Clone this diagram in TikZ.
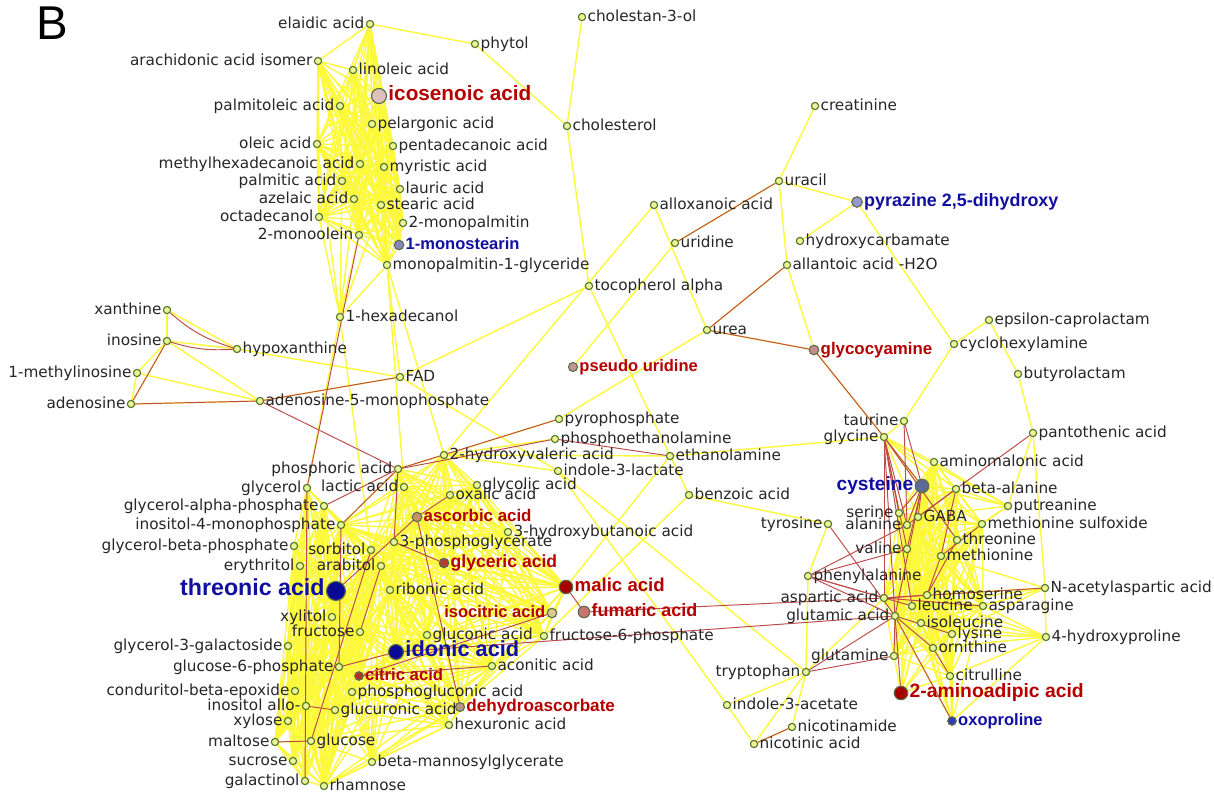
\documentclass[tikz,border=0pt]{standalone}
\usepackage{fontspec}
\newfontfamily\labfont{DejaVu Sans}
\newfontfamily\hifont{Liberation Sans}

\definecolor{edgeyellow}{RGB}{252,248,60}
\definecolor{edgered}{RGB}{190,75,75}
\definecolor{dotfill}{RGB}{236,245,150}
\definecolor{dotdraw}{RGB}{85,120,40}
\definecolor{hitdraw}{RGB}{90,110,70}
\definecolor{hired}{RGB}{180,0,0}
\definecolor{hiblue}{RGB}{15,15,160}
\definecolor{icosfill}{RGB}{222,192,192}
\definecolor{stearfill}{RGB}{135,135,200}
\definecolor{pyrafill}{RGB}{150,150,210}
\definecolor{pseudofill}{RGB}{195,150,150}
\definecolor{glycofill}{RGB}{200,140,140}
\definecolor{cysfill}{RGB}{95,105,150}
\definecolor{ascfill}{RGB}{200,145,100}
\definecolor{glycerfill}{RGB}{180,60,50}
\definecolor{navyfill}{RGB}{10,10,150}
\definecolor{malicfill}{RGB}{165,0,0}
\definecolor{fumfill}{RGB}{200,115,110}
\definecolor{isofill}{RGB}{220,200,150}
\definecolor{citfill}{RGB}{175,50,40}
\definecolor{dehydfill}{RGB}{180,150,130}
\definecolor{oxofill}{RGB}{50,60,175}

\pgfdeclarelayer{edges}
\pgfsetlayers{edges,main}

\tikzstyle{met}=[circle,
                 draw=dotdraw,
                 fill=dotfill,
                 line width=0.65pt,
                 inner sep=0pt,
                 minimum size=0.145cm,
                 label distance=0pt]
\tikzstyle{hit}=[circle,
                 draw=hitdraw,
                 line width=0.65pt,
                 inner sep=0pt,
                 label distance=0.5pt]
\tikzstyle{lab}=[font=\labfont\fontsize{8.7}{10}\selectfont,
                 text=black!85,
                 inner sep=0.6pt,
                 text height=1.5ex,
                 text depth=0.25ex]
\tikzstyle{yline}=[draw=edgeyellow, line width=0.8pt]
\tikzstyle{rline}=[draw=edgered, line width=0.55pt]
\tikzset{redlab/.style={font=\hifont\bfseries\fontsize{#1}{#1}\selectfont,
                        text=hired, inner sep=0.6pt,
                        text height=1.5ex, text depth=0.25ex},
         bluelab/.style={font=\hifont\bfseries\fontsize{#1}{#1}\selectfont,
                        text=hiblue, inner sep=0.6pt,
                        text height=1.5ex, text depth=0.25ex}}

% every pair of a group gets a line
\newcommand{\meshedges}[2]{%
  \foreach \a [count=\i] in {#2}{%
    \foreach \b [count=\j] in {#2}{%
      \ifnum\j>\i\relax\draw[#1] (\a) -- (\b);\fi
    }%
  }%
}

\begin{document}
\begin{tikzpicture}[x=0.02cm,y=-0.02cm]
  \useasboundingbox (0,0) rectangle (1214,793);

  \node[font=\hifont\fontsize{27}{27}\selectfont, anchor=base west, inner sep=0pt] (panel) at (36,40) {B};

  % Lipids
  \node[met, label={[lab]left:elaidic acid}] (elaidic) at (370,24) {};
  \node[met, label={[lab]left:arachidonic acid isomer}] (arachidonic) at (318,61) {};
  \node[met, label={[lab]right:linoleic acid}] (linoleic) at (353,70) {};
  \node[hit, fill=icosfill, minimum size=0.3cm, label={[redlab=11.8]right:icosenoic acid}] (icosenoic) at (379,96) {};
  \node[met, label={[lab]left:palmitoleic acid}] (palmitoleic) at (340,106) {};
  \node[met, label={[lab]right:pelargonic acid}] (pelargonic) at (372,124) {};
  \node[met, label={[lab]left:oleic acid}] (oleic) at (317,144) {};
  \node[met, label={[lab]right:pentadecanoic acid}] (pentadecanoic) at (393,146) {};
  \node[met, label={[lab]left:methylhexadecanoic acid}] (methylhexadecanoic) at (360,164) {};
  \node[met, label={[lab]right:myristic acid}] (myristic) at (384,167) {};
  \node[met, label={[lab]left:palmitic acid}] (palmitic) at (342,181) {};
  \node[met, label={[lab]right:lauric acid}] (lauric) at (400,189) {};
  \node[met, label={[lab]left:azelaic acid}] (azelaic) at (354,199) {};
  \node[met, label={[lab]right:stearic acid}] (stearic) at (381,205) {};
  \node[met, label={[lab]left:octadecanol}] (octadecanol) at (319,217) {};
  \node[met, label={[lab]right:2-monopalmitin}] (monopalmitin_2) at (403,223) {};
  \node[met, label={[lab]left:2-monoolein}] (monoolein_2) at (359,235) {};
  \node[hit, fill=stearfill, minimum size=0.19cm, label={[bluelab=9.4]right:1-monostearin}] (monostearin_1) at (399,245) {};
  \node[met, label={[lab]right:monopalmitin-1-glyceride}] (monopalmitin_glyceride) at (387,265) {};
  \node[met, label={[lab]right:1-hexadecanol}] (hexadecanol) at (340,317) {};
  \node[met, label={[lab]right:phytol}] (phytol) at (475,44) {};
  \node[met, label={[lab]right:cholestan-3-ol}] (cholestanol) at (582,17) {};
  \node[met, label={[lab]right:cholesterol}] (cholesterol) at (567,126) {};
  \node[met, label={[lab]right:tocopherol alpha}] (tocopherol) at (589,286) {};

  % Nitrogen compounds, top
  \node[met, label={[lab]right:creatinine}] (creatinine) at (815,106) {};
  \node[met, label={[lab]right:uracil}] (uracil) at (779,181) {};
  \node[met, label={[lab]right:alloxanoic acid}] (alloxanoic) at (654,205) {};
  \node[hit, fill=pyrafill, minimum size=0.21cm, label={[bluelab=10.2]right:{pyrazine 2,5-dihydroxy}}] (pyrazine) at (857,202) {};
  \node[met, label={[lab]right:uridine}] (uridine) at (675,243) {};
  \node[met, label={[lab]right:hydroxycarbamate}] (hydroxycarbamate) at (800,241) {};
  \node[met, label={[lab]right:allantoic acid -H2O}] (allantoic) at (787,265) {};
  \node[met, label={[lab]right:urea}] (urea) at (707,330) {};
  \node[hit, fill=glycofill, minimum size=0.19cm, label={[redlab=9.6]right:glycocyamine}] (glycocyamine) at (814,350) {};
  \node[met, label={[lab]right:epsilon-caprolactam}] (epsilon) at (989,320) {};
  \node[met, label={[lab]right:cyclohexylamine}] (cyclohexylamine) at (954,344) {};
  \node[met, label={[lab]right:butyrolactam}] (butyrolactam) at (1018,374) {};
  \node[hit, fill=pseudofill, minimum size=0.18cm, label={[redlab=9.4]right:pseudo uridine}] (pseudouridine) at (573,367) {};

  % Purines
  \node[met, label={[lab]left:xanthine}] (xanthine) at (167,310) {};
  \node[met, label={[lab]left:inosine}] (inosine) at (167,341) {};
  \node[met, label={[lab]right:hypoxanthine}] (hypoxanthine) at (237,349) {};
  \node[met, label={[lab]left:1-methylinosine}] (methylinosine) at (137,373) {};
  \node[met, label={[lab]left:adenosine}] (adenosine) at (131,404) {};
  \node[met, label={[lab]right:adenosine-5-monophosphate}] (amp) at (260,401) {};
  \node[met, label={[lab]right:FAD}] (fad) at (400,377) {};

  % Small acids and phosphates
  \node[met, label={[lab]right:pyrophosphate}] (pyrophosphate) at (559,419) {};
  \node[met, label={[lab]right:phosphoethanolamine}] (phosphoethanolamine) at (555,439) {};
  \node[met, label={[lab]right:2-hydroxyvaleric acid}] (hydroxyvaleric) at (444,455) {};
  \node[met, label={[lab]right:ethanolamine}] (ethanolamine) at (670,456) {};
  \node[met, label={[lab]right:indole-3-lactate}] (indolelactate) at (558,471) {};
  \node[met, label={[lab]left:phosphoric acid}] (phosphoric) at (398,469) {};
  \node[met, label={[lab]left:glycerol}] (glycerol) at (307,488) {};
  \node[met, label={[lab]left:lactic acid}] (lactic) at (404,487) {};
  \node[met, label={[lab]right:glycolic acid}] (glycolic) at (477,485) {};
  \node[met, label={[lab]right:oxalic acid}] (oxalic) at (450,495) {};
  \node[met, label={[lab]right:benzoic acid}] (benzoic) at (689,495) {};
  \node[met, label={[lab]left:glycerol-alpha-phosphate}] (glyalpha) at (324,506) {};
  \node[hit, fill=ascfill, minimum size=0.19cm, label={[redlab=9.6]right:ascorbic acid}] (ascorbic) at (417,517) {};
  \node[met, label={[lab]left:inositol-4-monophosphate}] (ino4) at (341,525) {};
  \node[met, label={[lab]right:3-hydroxybutanoic acid}] (hydroxybutanoic) at (508,532) {};
  \node[met, label={[lab]right:3-phosphoglycerate}] (phosphoglycerate) at (394,542) {};
  \node[met, label={[lab]left:glycerol-beta-phosphate}] (glybeta) at (294,546) {};
  \node[met, label={[lab]left:sorbitol}] (sorbitol) at (371,550) {};
  \node[hit, fill=glycerfill, minimum size=0.19cm, label={[redlab=10]right:glyceric acid}] (glyceric) at (444,563) {};
  \node[met, label={[lab]left:erythritol}] (erythritol) at (300,566) {};
  \node[met, label={[lab]left:arabitol}] (arabitol) at (381,566) {};
  \node[hit, fill=navyfill, minimum size=0.38cm, label={[bluelab=13.2]left:threonic acid}] (threonic) at (336,591) {};
  \node[met, label={[lab]right:ribonic acid}] (ribonic) at (390,590) {};
  \node[hit, fill=malicfill, minimum size=0.27cm, label={[redlab=10.6]right:malic acid}] (malic) at (566,587) {};
  \node[hit, fill=fumfill, minimum size=0.23cm, label={[redlab=10.2]right:fumaric acid}] (fumaric) at (584,612) {};
  \node[hit, fill=isofill, minimum size=0.19cm, label={[redlab=9.4]left:isocitric acid}] (isocitric) at (552,613) {};
  \node[met, label={[lab]left:xylitol}] (xylitol) at (332,617) {};
  \node[met, label={[lab]left:fructose}] (fructose) at (360,632) {};
  \node[met, label={[lab]right:gluconic acid}] (gluconic) at (427,635) {};
  \node[met, label={[lab]right:fructose-6-phosphate}] (fructose6p) at (544,636) {};

  % Sugars
  \node[met, label={[lab]left:glycerol-3-galactoside}] (gly3gal) at (288,646) {};
  \node[hit, fill=navyfill, minimum size=0.3cm, label={[bluelab=12.4]right:idonic acid}] (idonic) at (396,652) {};
  \node[met, label={[lab]right:aconitic acid}] (aconitic) at (492,666) {};
  \node[met, label={[lab]left:glucose-6-phosphate}] (g6p) at (339,667) {};
  \node[hit, fill=citfill, minimum size=0.17cm, label={[redlab=9.5]right:citric acid}] (citric) at (359,676) {};
  \node[met, label={[lab]left:conduritol-beta-epoxide}] (conduritol) at (295,691) {};
  \node[met, label={[lab]right:phosphogluconic acid}] (phosphogluconic) at (352,692) {};
  \node[met, label={[lab]left:inositol allo-}] (inosallo) at (306,706) {};
  \node[met, label={[lab]right:glucuronic acid}] (glucuronic) at (335,710) {};
  \node[hit, fill=dehydfill, minimum size=0.18cm, label={[redlab=9.75]right:dehydroascorbate}] (dehydroasc) at (460,707) {};
  \node[met, label={[lab]left:xylose}] (xylose) at (288,721) {};
  \node[met, label={[lab]right:hexuronic acid}] (hexuronic) at (449,725) {};
  \node[met, label={[lab]left:maltose}] (maltose) at (275,742) {};
  \node[met, label={[lab]right:glucose}] (glucose) at (311,741) {};
  \node[met, label={[lab]right:beta-mannosylglycerate}] (betamanno) at (372,762) {};
  \node[met, label={[lab]left:sucrose}] (sucrose) at (293,761) {};
  \node[met, label={[lab]left:galactinol}] (galactinol) at (305,781) {};
  \node[met, label={[lab]right:rhamnose}] (rhamnose) at (324,786) {};

  % Amino acids
  \node[met, label={[lab]left:taurine}] (taurine) at (904,421) {};
  \node[met, label={[lab]left:glycine}] (glycine) at (884,437) {};
  \node[met, label={[lab]right:pantothenic acid}] (pantothenic) at (1033,433) {};
  \node[met, label={[lab]right:aminomalonic acid}] (aminomalonic) at (934,462) {};
  \node[hit, fill=cysfill, minimum size=0.27cm, label={[bluelab=10.9]left:cysteine}] (cysteine) at (922,486) {};
  \node[met, label={[lab]right:beta-alanine}] (betaalanine) at (956,489) {};
  \node[met, label={[lab]right:putreanine}] (putreanine) at (1008,506) {};
  \node[met, label={[lab]left:serine}] (serine) at (899,513) {};
  \node[met, label={[lab]right:GABA}] (gaba) at (918,517) {};
  \node[met, label={[lab]left:alanine}] (alanine) at (907,525) {};
  \node[met, label={[lab]left:tyrosine}] (tyrosine) at (828,524) {};
  \node[met, label={[lab]right:methionine sulfoxide}] (methsulf) at (982,524) {};
  \node[met, label={[lab]right:threonine}] (threonine) at (957,540) {};
  \node[met, label={[lab]left:valine}] (valine) at (907,549) {};
  \node[met, label={[lab]right:methionine}] (methionine) at (941,556) {};
  \node[met, label={[lab]right:phenylalanine}] (phenylalanine) at (808,576) {};
  \node[met, label={[lab]right:N-acetylaspartic acid}] (nacetyl) at (1045,588) {};
  \node[met, label={[lab]right:homoserine}] (homoserine) at (927,595) {};
  \node[met, label={[lab]left:aspartic acid}] (aspartic) at (884,598) {};
  \node[met, label={[lab]right:leucine}] (leucine) at (912,606) {};
  \node[met, label={[lab]right:asparagine}] (asparagine) at (983,606) {};
  \node[met, label={[lab]left:glutamic acid}] (glutamic) at (895,616) {};
  \node[met, label={[lab]right:isoleucine}] (isoleucine) at (921,623) {};
  \node[met, label={[lab]right:lysine}] (lysine) at (952,634) {};
  \node[met, label={[lab]right:4-hydroxyproline}] (hydroxyproline) at (1046,637) {};
  \node[met, label={[lab]right:ornithine}] (ornithine) at (933,648) {};
  \node[met, label={[lab]left:glutamine}] (glutamine) at (894,656) {};
  \node[met, label={[lab]left:tryptophan}] (tryptophan) at (806,672) {};
  \node[met, label={[lab]right:citrulline}] (citrulline) at (950,676) {};
  \node[hit, fill=malicfill, minimum size=0.27cm, label={[redlab=11]right:2-aminoadipic acid}] (aminoadipic) at (901,693) {};
  \node[met, label={[lab]right:indole-3-acetate}] (indoleacetate) at (727,705) {};
  \node[hit, fill=oxofill, minimum size=0.17cm, label={[bluelab=9.4]right:oxoproline}] (oxoproline) at (952,721) {};
  \node[met, label={[lab]right:nicotinamide}] (nicotinamide) at (792,727) {};
  \node[met, label={[lab]right:nicotinic acid}] (nicotinic) at (754,744) {};

  \begin{pgfonlayer}{edges}
    % dense groups
    \meshedges{yline}{elaidic, arachidonic, linoleic, icosenoic, palmitoleic,
      pelargonic, oleic, pentadecanoic, methylhexadecanoic, myristic, palmitic,
      lauric, azelaic, stearic, octadecanol, monopalmitin_2, monoolein_2,
      monostearin_1, monopalmitin_glyceride}
    \meshedges{yline}{glycerol, glyalpha, ino4, glybeta, erythritol, threonic,
      xylitol, gly3gal, g6p, conduritol, inosallo, xylose, maltose, sucrose,
      galactinol, rhamnose, glucose, fructose, sorbitol, arabitol}
    \meshedges{yline}{sorbitol, arabitol, ribonic, fructose, gluconic, idonic,
      citric, phosphogluconic, glucuronic, hexuronic, dehydroasc, aconitic,
      betamanno, glucose, rhamnose, g6p, xylitol, threonic}
    \meshedges{yline}{phosphoric, lactic, hydroxyvaleric, glycolic, oxalic,
      ascorbic, phosphoglycerate, glyceric, hydroxybutanoic, malic, isocitric,
      ribonic, gluconic, idonic, fructose6p, aconitic, dehydroasc, arabitol,
      sorbitol, ino4}
    \meshedges{yline}{aminomalonic, cysteine, betaalanine, serine, gaba, alanine,
      methsulf, threonine, valine, methionine, homoserine, leucine, asparagine,
      aspartic, glutamic, isoleucine, lysine, ornithine, glutamine, citrulline}

    % single yellow links
    \path[yline]
      (elaidic) edge (phytol)
      (phytol) edge (cholesterol)
      (cholestanol) edge (cholesterol)
      (cholesterol) edge (tocopherol)
      (tocopherol) edge (fad)
      (tocopherol) edge (benzoic)
      (hexadecanol) edge (octadecanol)
      (hexadecanol) edge (monoolein_2)
      (hexadecanol) edge (azelaic)
      (hexadecanol) edge (palmitic)
      (hexadecanol) edge (oleic)
      (hexadecanol) edge (stearic)
      (hexadecanol) edge (monopalmitin_glyceride)
      (hexadecanol) edge (glycerol)
      (hexadecanol) edge (sorbitol)
      (monopalmitin_glyceride) edge (fad)
      (monopalmitin_glyceride) edge (hydroxyvaleric)
      (monopalmitin_glyceride) edge (lactic)
      (uridine) edge (pseudouridine)
      (uridine) edge (uracil)
      (alloxanoic) edge (urea)
      (alloxanoic) edge (hydroxyvaleric)
      (uracil) edge (creatinine)
      (uracil) edge (pyrazine)
      (uracil) edge (allantoic)
      (pyrazine) edge (hydroxycarbamate)
      (pyrazine) edge (cyclohexylamine)
      (allantoic) edge (urea)
      (allantoic) edge (glycocyamine)
      (urea) edge (pyrophosphate)
      (urea) edge (glycocyamine)
      (glycocyamine) edge (glycine)
      (cyclohexylamine) edge (epsilon)
      (cyclohexylamine) edge (taurine)
      (epsilon) edge (butyrolactam)
      (butyrolactam) edge (pantothenic)
      (pantothenic) edge (putreanine)
      (pantothenic) edge (nacetyl)
      (nacetyl) edge (hydroxyproline)
      (xanthine) edge (inosine)
      (xanthine) edge (hypoxanthine)
      (inosine) edge (hypoxanthine)
      (inosine) edge (methylinosine)
      (inosine) edge (adenosine)
      (inosine) edge (amp)
      (methylinosine) edge (adenosine)
      (methylinosine) edge (amp)
      (adenosine) edge (amp)
      (hypoxanthine) edge (fad)
      (amp) edge (fad)
      (fad) edge (indolelactate)
      (hydroxyvaleric) edge (ethanolamine)
      (hydroxyvaleric) edge (pyrophosphate)
      (hydroxyvaleric) edge (phosphoethanolamine)
      (hydroxyvaleric) edge (indolelactate)
      (ethanolamine) edge (glycine)
      (malic) edge (ethanolamine)
      (indolelactate) edge (tryptophan)
      (indolelactate) edge (indoleacetate)
      (benzoic) edge (tyrosine)
      (benzoic) edge (fructose6p)
      (tryptophan) edge (indoleacetate)
      (tryptophan) edge (nicotinamide)
      (tryptophan) edge (nicotinic)
      (nicotinamide) edge (nicotinic)
      (indoleacetate) edge (nicotinic)
      (tryptophan) edge (phenylalanine)
      (tryptophan) edge (aspartic)
      (tyrosine) edge (phenylalanine)
      (taurine) edge (glycine)
      (glycine) edge (aminomalonic)
      (glycine) edge (cysteine)
      (glycine) edge (betaalanine)
      (glycine) edge (serine)
      (glycine) edge (gaba)
      (glycine) edge (threonine)
      (glycine) edge (putreanine)
      (glycine) edge (methsulf)
      (putreanine) edge (betaalanine)
      (putreanine) edge (cysteine)
      (putreanine) edge (methsulf)
      (putreanine) edge (threonine)
      (putreanine) edge (aminomalonic)
      (putreanine) edge (gaba)
      (nacetyl) edge (homoserine)
      (nacetyl) edge (asparagine)
      (nacetyl) edge (lysine)
      (nacetyl) edge (leucine)
      (nacetyl) edge (isoleucine)
      (nacetyl) edge (methionine)
      (hydroxyproline) edge (asparagine)
      (hydroxyproline) edge (lysine)
      (hydroxyproline) edge (ornithine)
      (hydroxyproline) edge (citrulline)
      (hydroxyproline) edge (oxoproline)
      (hydroxyproline) edge (homoserine)
      (hydroxyproline) edge (isoleucine)
      (hydroxyproline) edge (leucine)
      (aminoadipic) edge (glutamine)
      (aminoadipic) edge (valine)
      (aminoadipic) edge (alanine)
      (aminoadipic) edge (leucine)
      (aminoadipic) edge (lysine)
      (aminoadipic) edge (ornithine)
      (aminoadipic) edge (citrulline)
      (aminoadipic) edge (isoleucine)
      (aminoadipic) edge (homoserine)
      (oxoproline) edge (lysine)
      (oxoproline) edge (asparagine)
      (oxoproline) edge (citrulline)
      (oxoproline) edge (ornithine)
      (oxoproline) edge (isoleucine)
      (oxoproline) edge (leucine)
      (oxoproline) edge (aspartic)
      ;

    % red links
    \path[rline]
      (monoolein_2) edge (glycerol)
      (uridine) edge (uracil)
      (allantoic) edge (urea)
      (urea) edge (glycocyamine)
      (glycocyamine) edge (glycine)
      (xanthine) edge[bend right=12] (hypoxanthine)
      (inosine) edge[bend right=10] (hypoxanthine)
      (inosine) edge (adenosine)
      (adenosine) edge (amp)
      (amp) edge (fad)
      (amp) edge (phosphoric)
      (phosphoric) edge (pyrophosphate)
      (phosphoric) edge (phosphoethanolamine)
      (phosphoethanolamine) edge (ethanolamine)
      (phosphoric) edge (glyalpha)
      (phosphoric) edge (ino4)
      (phosphoric) edge (phosphoglycerate)
      (threonic) edge (ascorbic)
      (ascorbic) edge (oxalic)
      (ascorbic) edge (dehydroasc)
      (glyceric) edge (phosphoglycerate)
      (malic) edge (fumaric)
      (citric) edge (aconitic)
      (isocitric) edge (citric)
      (glycerol) edge (galactinol)
      (ino4) edge (g6p)
      (maltose) edge (glucose)
      (inosallo) edge (glucuronic)
      (arabitol) edge (fructose)
      (sorbitol) edge (glucose)
      (g6p) edge (idonic)
      (fumaric) edge (aspartic)
      (idonic) edge (glutamic)
      (nicotinamide) edge (nicotinic)
      (glycine) edge (serine)
      (glycine) edge (alanine)
      (glycine) edge (valine)
      (glycine) edge (aspartic)
      (glycine) edge (glutamic)
      (glycine) edge (cysteine)
      (glycine) edge (threonine)
      (glycine) edge (leucine)
      (taurine) edge (alanine)
      (taurine) edge (cysteine)
      (cysteine) edge (alanine)
      (cysteine) edge (serine)
      (cysteine) edge (valine)
      (cysteine) edge (glutamic)
      (cysteine) edge (gaba)
      (betaalanine) edge (pantothenic)
      (betaalanine) edge (alanine)
      (betaalanine) edge (gaba)
      (betaalanine) edge (methionine)
      (methionine) edge (methsulf)
      (methionine) edge (homoserine)
      (threonine) edge (homoserine)
      (phenylalanine) edge (valine)
      (phenylalanine) edge (alanine)
      (phenylalanine) edge (aspartic)
      (phenylalanine) edge (glutamic)
      (phenylalanine) edge (leucine)
      (tyrosine) edge (glutamic)
      (tryptophan) edge (glutamic)
      (tryptophan) edge (glutamine)
      (glutamic) edge (aminoadipic)
      (glutamic) edge (oxoproline)
      (glutamic) edge (glutamine)
      (glutamic) edge (ornithine)
      (glutamic) edge (lysine)
      (aspartic) edge (asparagine)
      (aspartic) edge (homoserine)
      (aspartic) edge (nacetyl)
      (ornithine) edge (citrulline)
      ;
  \end{pgfonlayer}
\end{tikzpicture}
\end{document}
